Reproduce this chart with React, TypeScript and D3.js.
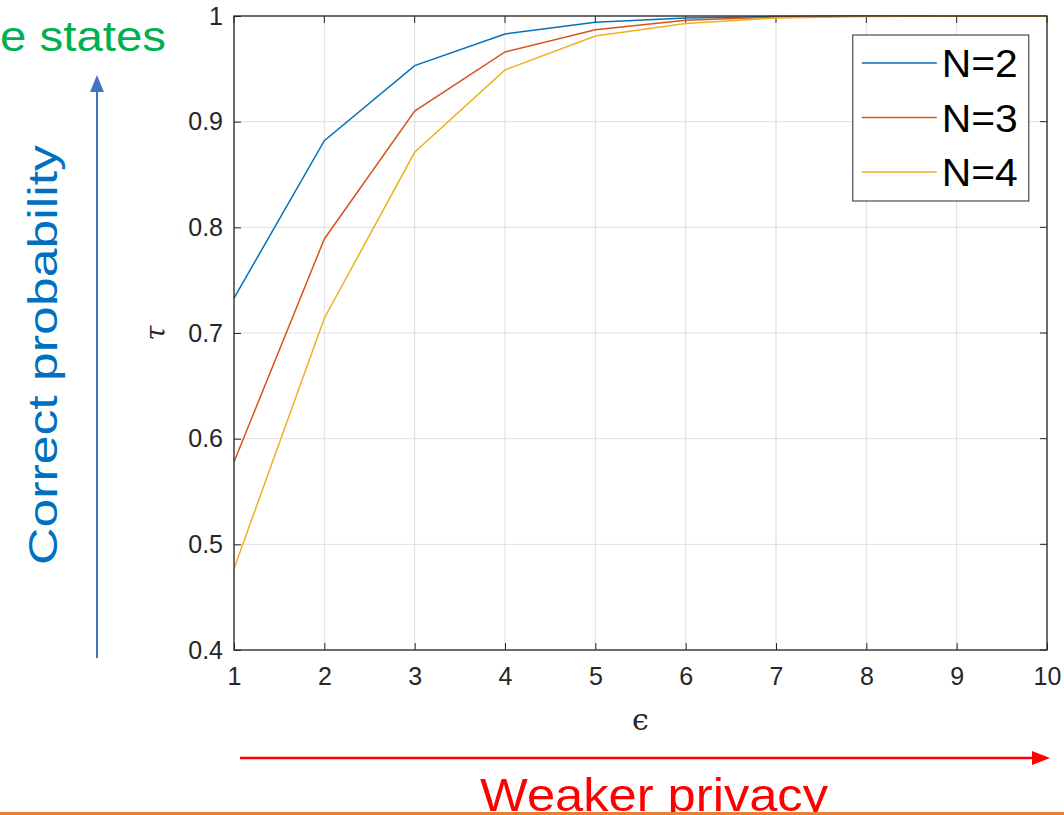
import { useRef, useEffect } from 'react';
import * as d3 from 'd3';

// epsilon values along the x axis
const epsilons = [1, 2, 3, 4, 5, 6, 7, 8, 9, 10];
const seriesNames = ['N=2', 'N=3', 'N=4'];
const seriesColors = ['#0072BD', '#D95319', '#EDB120'];
const tauN2 = [0.733, 0.882, 0.953, 0.983, 0.994, 0.998, 0.9995, 1, 1, 1];
const tauN3 = [0.578, 0.789, 0.91, 0.966, 0.987, 0.996, 0.999, 1, 1, 1];
const tauN4 = [0.477, 0.714, 0.871, 0.949, 0.981, 0.993, 0.998, 0.9995, 1, 1];
const yTicks = [0.4, 0.5, 0.6, 0.7, 0.8, 0.9, 1];

const W = 1064;
const H = 815;
const margin = { top: 16, right: 17, bottom: 165, left: 234 };
const font = '"Liberation Sans", Arial, Helvetica, sans-serif';

export default function App() {
  const gx = useRef<SVGGElement>(null);
  const gy = useRef<SVGGElement>(null);

  const innerW = W - margin.left - margin.right;
  const innerH = H - margin.top - margin.bottom;

  const x = d3.scaleLinear().domain([1, 10]).range([0, innerW]);
  const y = d3.scaleLinear().domain([0.4, 1]).range([innerH, 0]);

  const line = d3
    .line<number>()
    .x((_, i) => x(epsilons[i]))
    .y((d) => y(d));

  const series = [tauN2, tauN3, tauN4];

  useEffect(() => {
    const el = gx.current;
    if (!el) return;
    const g = d3.select(el);
    g.call(d3.axisBottom(x).tickValues(epsilons).tickSize(-7).tickPadding(17).tickFormat(d3.format('d')));
    g.attr('font-size', 25).attr('font-family', font);
    g.select('.domain').remove();
    g.selectAll('text').style('font-size', '25px').attr('fill', '#262626');
    g.selectAll('line').attr('stroke', '#262626');
    return () => {
      g.selectAll('*').remove();
    };
  }, [x]);

  useEffect(() => {
    const el = gy.current;
    if (!el) return;
    const g = d3.select(el);
    g.call(
      d3
        .axisLeft(y)
        .tickValues(yTicks)
        .tickSize(-7)
        .tickPadding(11)
        .tickFormat((d) => (d === 1 ? '1' : d3.format('.1f')(d as number))),
    );
    g.attr('font-size', 25).attr('font-family', font);
    g.select('.domain').remove();
    g.selectAll('text').style('font-size', '25px').attr('fill', '#262626');
    g.selectAll('line').attr('stroke', '#262626');
    return () => {
      g.selectAll('*').remove();
    };
  }, [y]);

  return (
    <svg width={W} height={H} style={{ position: 'absolute', left: 0, top: 0, background: '#fff' }}>
      <rect width={W} height={H} fill="#fff" />
      <g transform={`translate(${margin.left},${margin.top})`}>
        {/* grid */}
        {epsilons.map((e) => (
          <line key={`gx${e}`} x1={x(e)} x2={x(e)} y1={0} y2={innerH} stroke="#dfdfdf" strokeWidth={1} />
        ))}
        {yTicks.map((t) => (
          <line key={`gy${t}`} x1={0} x2={innerW} y1={y(t)} y2={y(t)} stroke="#dfdfdf" strokeWidth={1} />
        ))}
        {/* top and right ticks */}
        {epsilons.map((e) => (
          <line key={`tt${e}`} x1={x(e)} x2={x(e)} y1={0} y2={7} stroke="#262626" />
        ))}
        {yTicks.map((t) => (
          <line key={`rt${t}`} x1={innerW} x2={innerW - 7} y1={y(t)} y2={y(t)} stroke="#262626" />
        ))}
        {series.map((s, i) => (
          <path key={seriesNames[i]} d={line(s)!} fill="none" stroke={seriesColors[i]} strokeWidth={1.5} />
        ))}
        <rect x={0} y={0} width={innerW} height={innerH} fill="none" stroke="#262626" strokeWidth={1.3} />
        <g ref={gx} transform={`translate(0,${innerH})`} />
        <g ref={gy} />
        {/* legend */}
        <g transform={`translate(${x(7.85)},19)`}>
          <rect x={0} y={0} width={176} height={166} fill="#fff" stroke="#262626" strokeWidth={1} />
          {seriesNames.map((n, i) => (
            <g key={n} transform={`translate(0,${28 + i * 54.5})`}>
              <line x1={9} x2={84} y1={0} y2={0} stroke={seriesColors[i]} strokeWidth={1.5} />
              <text
                x={89}
                y={14}
                fontFamily={font}
                fontSize={38}
                fill="#000"
                textLength={76}
                lengthAdjust="spacingAndGlyphs"
              >
                {n}
              </text>
            </g>
          ))}
        </g>
        {/* axis titles */}
        <text x={innerW / 2} y={innerH + 80} textAnchor="middle" fontFamily="'DejaVu Serif', serif" fontSize={30} fill="#262626">
          ϵ
        </text>
        <text
          transform={`translate(-69,${y(0.7)}) rotate(-90)`}
          textAnchor="middle"
          fontFamily="'DejaVu Serif', serif"
          fontStyle="italic"
          fontSize={27}
          fill="#262626"
        >
          τ
        </text>
      </g>

      {/* annotations */}
      <text x={0} y={51} fontFamily={font} fontSize={43} fill="#00B050" textLength={166} lengthAdjust="spacingAndGlyphs">
        e states
      </text>
      <line x1={97} x2={97} y1={658} y2={88} stroke="#4472C4" strokeWidth={2} />
      <path d="M97,75 L90,92 L104,92 Z" fill="#4472C4" />
      <text
        transform="translate(57,355) rotate(-90)"
        textAnchor="middle"
        fontFamily={font}
        fontSize={41}
        fill="#0070C0"
        textLength={420}
        lengthAdjust="spacingAndGlyphs"
      >
        Correct probability
      </text>
      <line x1={240} x2={1036} y1={758} y2={758} stroke="#FF0000" strokeWidth={2.5} />
      <path d="M1050,758 L1032,751 L1032,765 Z" fill="#FF0000" />
      <text
        x={654}
        y={811}
        textAnchor="middle"
        fontFamily={font}
        fontSize={46}
        fill="#FF0000"
        textLength={348}
        lengthAdjust="spacingAndGlyphs"
      >
        Weaker privacy
      </text>
      <line x1={0} x2={W} y1={813.5} y2={813.5} stroke="#ED7D31" strokeWidth={3} />
    </svg>
  );
}
